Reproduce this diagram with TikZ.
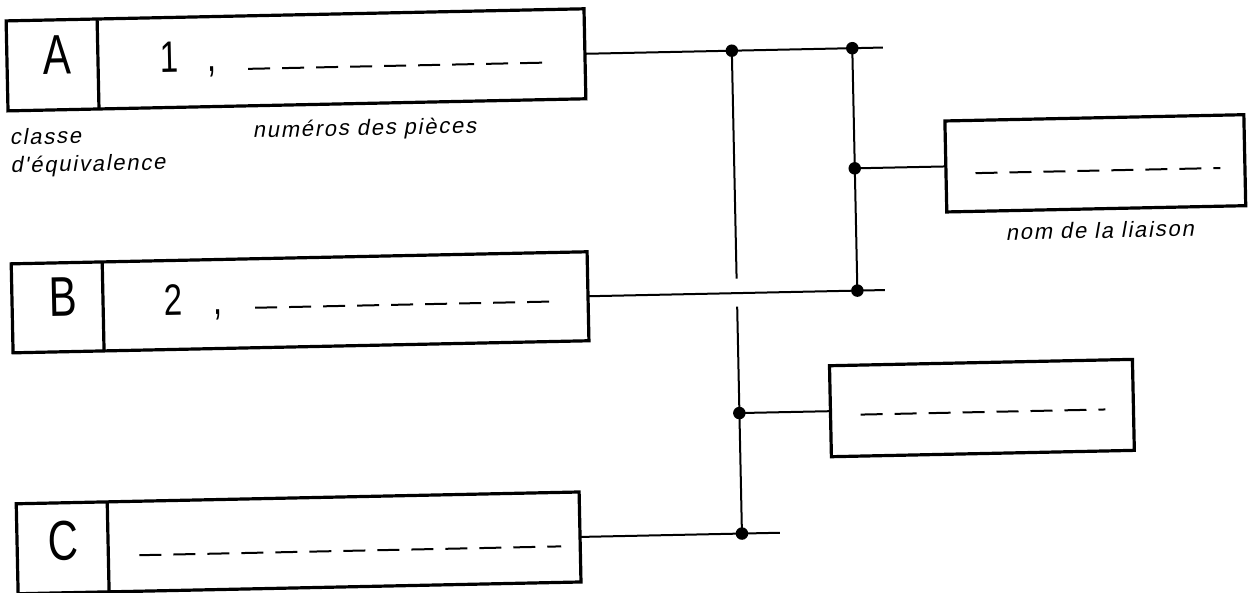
\documentclass[tikz,border=0pt]{standalone}
\usepackage{fontspec}
\setmainfont{Liberation Sans}
\newfontfamily\isofont[FakeStretch=0.75]{Liberation Sans}
\newfontfamily\isoitfont[FakeSlant=0.2,LetterSpace=8]{Liberation Sans}
\begin{document}
\begin{tikzpicture}[x=1pt,y=-1pt,
  frame/.style={draw, line width=3.2pt, inner sep=0pt, outer sep=0pt},
  divider/.style={line width=3.2pt},
  wire/.style={line width=2pt},
  dashline/.style={line width=2pt, dash pattern=on 22pt off 12pt},
  junc/.style={circle, fill, inner sep=0pt, minimum size=12.5pt},
  letter/.style={font=\isofont\fontsize{56}{58}\selectfont, inner sep=0pt},
  digit/.style={font=\isofont\fontsize{44}{46}\selectfont, anchor=base, inner sep=0pt},
  lbl/.style={font=\isoitfont\fontsize{22}{24}\selectfont, anchor=base west, inner sep=0pt}]
\useasboundingbox (0,0) rectangle (1250,593);
\begin{scope}[rotate around={1.2:(625,296)}, every node/.append style={transform shape}]

% class boxes
\node[frame, minimum width=578pt, minimum height=90pt] (A) at (301,53) {};
\draw[divider] (A.north west -| 103,0) -- (A.south west -| 103,0);
\node[frame, minimum width=576pt, minimum height=89pt] (B) at (300,295.5) {};
\draw[divider] (B.north west -| 103,0) -- (B.south west -| 103,0);
\node[frame, minimum width=563pt, minimum height=90pt] (C) at (293.5,536) {};
\draw[divider] (C.north west -| 103,0) -- (C.south west -| 103,0);

% liaison boxes
\node[frame, minimum width=299pt, minimum height=91pt] (L1) at (1098,173.2) {};
\node[frame, minimum width=303pt, minimum height=91pt] (L2) at (979.5,415.5) {};

% texts in boxes
\node[letter] (la) at (62.5,43) {A};
\node[letter] (lb) at (63,285) {B};
\node[letter] (lc) at (58,529) {C};
\node[digit] (n1) at (174,62.5) {1};
\node[digit] (c1) at (217,63) {,};
\node[digit] (n2) at (173,305.5) {2};
\node[digit] (c2) at (218,305.5) {,};

% dashed fill-in lines
\draw[dashline] (253,61) -- (558,61);
\draw[dashline] (255,300) -- (560,300);
\draw[dashline] (134,545) -- (556,545);
\draw[dashline] (978,180.5) -- (1223,180.5);
\draw[dashline] (858,419.5) -- (1103,419.5);

% junction coordinates
\coordinate (jA1) at (737,53);
\coordinate (jA2) at (857.5,53);
\coordinate (eA) at (888,53);
\coordinate (jB) at (857.5,295.5);
\coordinate (eB) at (885,295.5);
\coordinate (jL1) at (L1.west -| jA2);
\coordinate (g1) at (737,281);
\coordinate (g2) at (737,309);
\coordinate (jL2) at (L2.west -| jA1);
\coordinate (jC) at (737,536);
\coordinate (eC) at (775,536);

% connectors
\draw[wire] (A.east) -- (eA);
\draw[wire] (B.east) -- (eB);
\draw[wire] (C.east) -- (eC);
\draw[wire] (jA2) -- (jB);
\draw[wire] (jL1) -- (L1.west);
\draw[wire] (jA1) -- (g1);
\draw[wire] (g2) -- (jC);
\draw[wire] (jL2) -- (L2.west);

% dots
\node[junc] (dA1) at (jA1) {};
\node[junc] (dA2) at (jA2) {};
\node[junc] (dB) at (jB) {};
\node[junc] (dL1) at (jL1) {};
\node[junc] (dL2) at (jL2) {};
\node[junc] (dC) at (jC) {};

% labels
\node[lbl] (tcl) at (13,132) {classe};
\node[lbl] (teq) at (13,160) {d'équivalence};
\node[lbl] (tnum) at (256,130) {numéros des pièces};
\node[lbl, anchor=base] (tnom) at (1101,248) {nom de la liaison};
\end{scope}
\end{tikzpicture}
\end{document}
